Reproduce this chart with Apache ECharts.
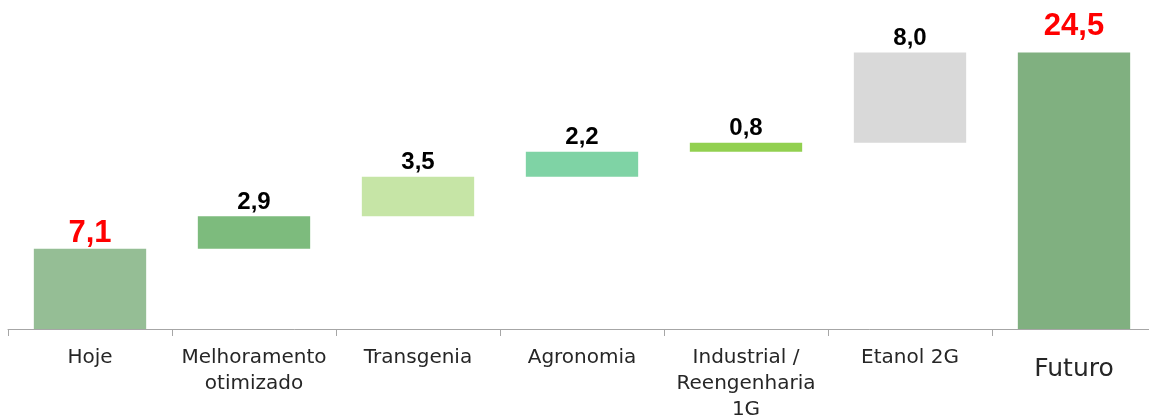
<!DOCTYPE html>
<html>
<head>
<meta charset="utf-8">
<script src="https://cdn.jsdelivr.net/npm/echarts@6/dist/echarts.min.js"></script>
<style>
  html, body { margin: 0; padding: 0; background: #fff; overflow: hidden; }
  /* o eixo passa da borda direita, por isso o div e um pouco mais largo */
  #main { width: 1156px; height: 420px; }
</style>
</head>
<body>
<div id="main"></div>
<script>
// categorias e valores (ponte Hoje -> Futuro)
var categories = ['Hoje', 'Melhoramento\notimizado', 'Transgenia', 'Agronomia', 'Industrial /\nReengenharia\n1G', 'Etanol 2G', 'Futuro'];
var values = [7.1, 2.9, 3.5, 2.2, 0.8, 8.0, 24.5];
var isTotal = [true, false, false, false, false, false, true];
var barColors = ['#95be95', '#7dbb7d', '#c6e5a6', '#7fd3a5', '#92d050', '#d9d9d9', '#80b080'];

// base invisivel de cada degrau
var base = [];
var acc = 0;
for (var i = 0; i < values.length; i++) {
  if (isTotal[i]) {
    base.push(0);
    acc = values[i];
  } else {
    base.push(acc);
    acc = acc + values[i];
  }
}

var chart = echarts.init(document.getElementById('main'));

var option = {
  animation: false,
  grid: { left: 8, top: 13, right: 0, bottom: 91, containLabel: false, outerBoundsMode: 'none' },
  xAxis: {
    type: 'category',
    data: categories,
    axisLine: { lineStyle: { color: '#a6a6a6', width: 1 } },
    axisTick: { show: true, length: 7, lineStyle: { color: '#a6a6a6' } },
    axisLabel: {
      interval: 0,
      margin: 16,
      color: '#262626',
      fontFamily: 'DejaVu Sans',
      fontSize: 20,
      lineHeight: 26,
      formatter: function (v) {
        if (v === 'Futuro') return '{big|' + v + '}';
        return v;
      },
      rich: {
        big: { fontSize: 25, lineHeight: 48, color: '#262626', fontFamily: 'DejaVu Sans' }
      }
    }
  },
  yAxis: {
    type: 'value',
    min: 0,
    max: 28,
    show: false,
    splitLine: { show: false }
  },
  series: [
    {
      type: 'bar',
      stack: 'w',
      barWidth: '68.5%',
      silent: true,
      itemStyle: { color: 'transparent' },
      data: base
    },
    {
      type: 'bar',
      stack: 'w',
      barWidth: '68.5%',
      data: values.map(function (v, i) {
        var total = isTotal[i];
        return {
          value: v,
          itemStyle: { color: barColors[i] },
          label: {
            show: true,
            position: 'top',
            distance: total ? (i === values.length - 1 ? 11 : 0) : 2,
            color: total ? '#ff0000' : '#000000',
            fontSize: total ? 31 : 24,
            fontWeight: 'bold',
            fontFamily: 'Liberation Sans'
          }
        };
      }),
      label: {
        formatter: function (p) {
          return p.value.toFixed(1).replace('.', ',');
        }
      }
    }
  ]
};

chart.setOption(option);
</script>
</body>
</html>
